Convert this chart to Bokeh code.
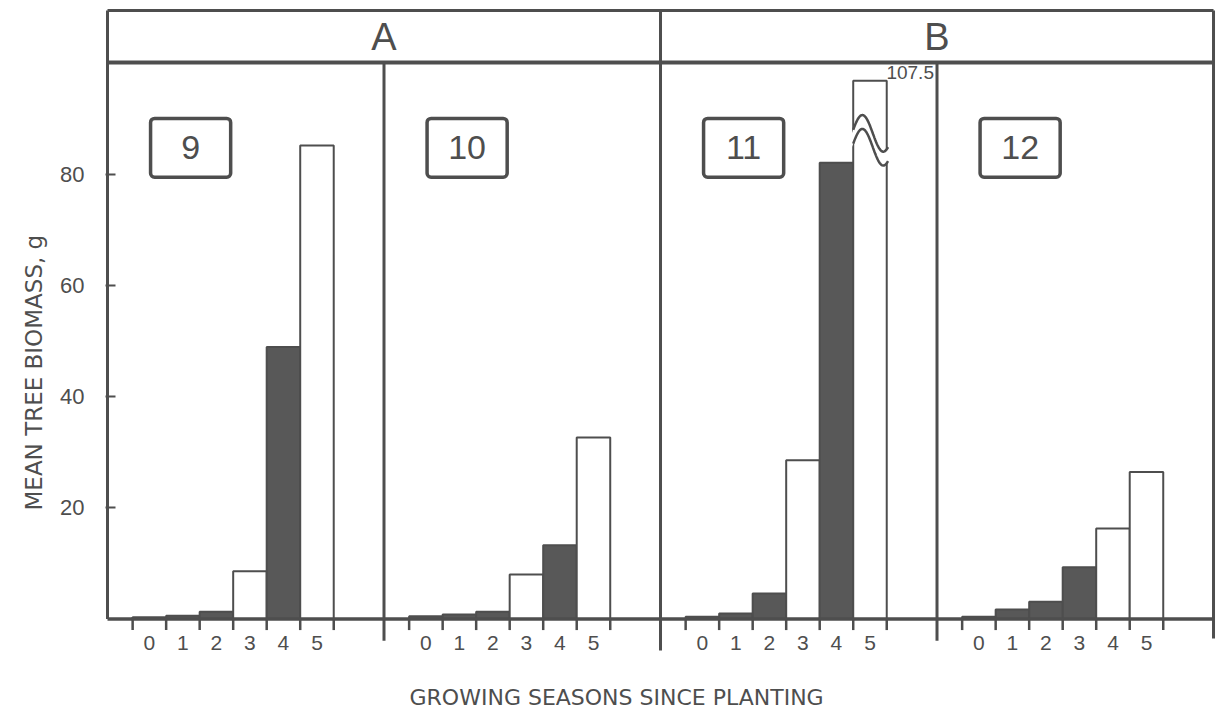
from bokeh.plotting import figure
from bokeh.models import Range1d, FixedTicker, Title, ColumnDataSource
from bokeh.core.properties import value
from bokeh.embed import file_html
from bokeh.resources import INLINE
import numpy as np

# ---- data -------------------------------------------------------------
groups = ["A", "B"]
panels = ["9", "10", "11", "12"]
seasons = [0, 1, 2, 3, 4, 5]

biomass_9 = [0.3, 0.6, 1.3, 8.6, 49.0, 85.3]
biomass_10 = [0.5, 0.8, 1.3, 8.0, 13.3, 32.7]
biomass_11 = [0.4, 1.0, 4.6, 28.6, 82.2, 107.5]
biomass_12 = [0.4, 1.7, 3.1, 9.3, 16.3, 26.5]

# 1 = shaded bar, 0 = open bar
shaded_9 = [1, 1, 1, 0, 1, 0]
shaded_10 = [1, 1, 1, 0, 1, 0]
shaded_11 = [1, 1, 1, 0, 1, 0]
shaded_12 = [1, 1, 1, 1, 0, 0]

y_ticks = [20, 40, 60, 80]

# bar drawn with a broken scale: panel 11, season 5
broken_panel = "11"
broken_season = 5
omitted = 10.5   # axis units cut out by the break

x_title = "GROWING SEASONS SINCE PLANTING"
y_title = "MEAN TREE BIOMASS, g"

# ---- layout / style ---------------------------------------------------
PANEL_W = 8.25
BAR_OFF = 0.75
N_PANELS = len(panels)
X_END = PANEL_W * N_PANELS
Y_TOP = 109.64       # top of the header box
Y_HDR = 100.27       # bottom of the header box
INK = "#4e4e4e"
DARK = "#585858"
FONT = "Liberation Sans"
LABEL_FONT = "DejaVu Sans"

p = figure(width=1218, height=710,
           x_range=Range1d(-0.0597, 33.119), y_range=Range1d(-16.49, 110.36),
           output_backend="svg", toolbar_location=None, x_axis_location=None,
           min_border_left=105, min_border_right=1, min_border_top=6,
           min_border_bottom=0)
p.title.visible = False
p.xgrid.visible = False
p.ygrid.visible = False
p.outline_line_color = None
p.background_fill_color = "white"
p.border_fill_color = "white"

ax = p.yaxis[0]
ax.ticker = FixedTicker(ticks=y_ticks)
ax.axis_line_color = None
ax.major_tick_in = 10
ax.major_tick_out = 0
ax.major_tick_line_color = INK
ax.major_tick_line_width = 2
ax.minor_tick_line_color = None
ax.major_label_standoff = 21
ax.major_label_text_font = FONT
ax.major_label_text_font_size = "22px"
ax.major_label_text_color = INK

p.add_layout(Title(text=y_title, align="left", offset=200,
                   text_font=LABEL_FONT, text_font_size="23px", text_font_style="normal",
                   text_color=INK, standoff=22), "left")

# ---- bars -------------------------------------------------------------
values = {"9": biomass_9, "10": biomass_10, "11": biomass_11, "12": biomass_12}
shades = {"9": shaded_9, "10": shaded_10, "11": shaded_11, "12": shaded_12}

left, right, top, fill = [], [], [], []
edge_x, lab_x, lab_t = [], [], []
for k, name in enumerate(panels):
    x0 = k * PANEL_W + BAR_OFF
    for i, s in enumerate(seasons):
        v = values[name][i]
        if name == broken_panel and s == broken_season:
            v = v - omitted
        left.append(x0 + i)
        right.append(x0 + i + 1)
        top.append(v)
        fill.append(DARK if shades[name][i] else "white")
        lab_x.append(x0 + i + 0.5)
        lab_t.append(str(s))
    edge_x.extend([x0 + i for i in range(len(seasons) + 1)])

bars = ColumnDataSource(dict(left=left, right=right, top=top, fill=fill))
p.quad(left="left", right="right", bottom=0, top="top", fill_color="fill",
       line_color=INK, line_width=2, source=bars)

# break marks on the tall bar
kb = panels.index(broken_panel)
bl = kb * PANEL_W + BAR_OFF + seasons.index(broken_season)
shown_top = biomass_11[broken_season] - omitted
t = np.linspace(-0.1, 1.1, 60)
up = shown_top - 9.5 + 3.3 * np.sin(5.03 * t + 0.2)
lo = shown_top - 12.0 + 3.3 * np.sin(5.03 * t + 0.2)
p.patch(list(bl + t) + list(bl + t[::-1]), list(up) + list(lo[::-1]),
        fill_color="white", line_color=None)
tc = np.linspace(0, 1.04, 50)
for base in (shown_top - 9.5, shown_top - 12.0):
    p.line(bl + tc, base + 3.3 * np.sin(5.03 * tc + 0.2), line_color=INK, line_width=2.5)
p.text(x=[bl + 0.99], y=[shown_top + 1.5], text=[f"{biomass_11[broken_season]:g}"],
       text_font=value(FONT), text_font_size="19px", text_color=INK,
       text_align="left", text_baseline="middle")

# ---- frame and axes lines --------------------------------------------
fx0 = [0, 0, 0, X_END, X_END / 2, PANEL_W, 3 * PANEL_W]
fy0 = [Y_TOP, Y_HDR, 0, -3.5, -5.7, -3.9, -3.9]
fx1 = [X_END, X_END, 0, X_END, X_END / 2, PANEL_W, 3 * PANEL_W]
fy1 = [Y_TOP, Y_HDR, Y_TOP, Y_TOP, Y_TOP, Y_HDR, Y_HDR]
p.segment(fx0, fy0, fx1, fy1, line_color=INK, line_width=3)
p.segment([0], [Y_HDR], [X_END], [Y_HDR], line_color=INK, line_width=4)
p.segment([0], [0], [X_END], [0], line_color=INK, line_width=3.5)

# season ticks at bar edges
p.segment(edge_x, [0] * len(edge_x), edge_x, [-2.0] * len(edge_x),
          line_color=INK, line_width=2.5)
p.text(x=lab_x, y=[-4.4] * len(lab_x), text=lab_t, text_font=value(FONT),
       text_font_size="21px", text_color=INK, text_align="center",
       text_baseline="middle")

# x-axis title under the season labels
p.text(x=[15.19], y=[-14.1], text=[x_title], text_font=value(LABEL_FONT),
       text_font_size="22px", text_color=INK, text_align="center",
       text_baseline="middle")

# panel number boxes
bx = [k * PANEL_W + 2.48 for k in range(N_PANELS)]
p.rect(x=bx, y=[84.9] * N_PANELS, width=2.39, height=10.6, fill_color="white",
       line_color=INK, line_width=3.5, border_radius=4)
p.text(x=bx, y=[84.9] * N_PANELS, text=panels, text_font=value(FONT),
       text_font_size="34px", text_color=INK, text_align="center",
       text_baseline="middle")

# group headers
gx = [(2 * g + 1) * X_END / 4 for g in range(len(groups))]
p.text(x=gx, y=[104.8] * len(groups), text=groups, text_font=value(FONT),
       text_font_size="38px", text_color=INK, text_align="center",
       text_baseline="middle")

open("out.html", "w").write(file_html(p, INLINE))
